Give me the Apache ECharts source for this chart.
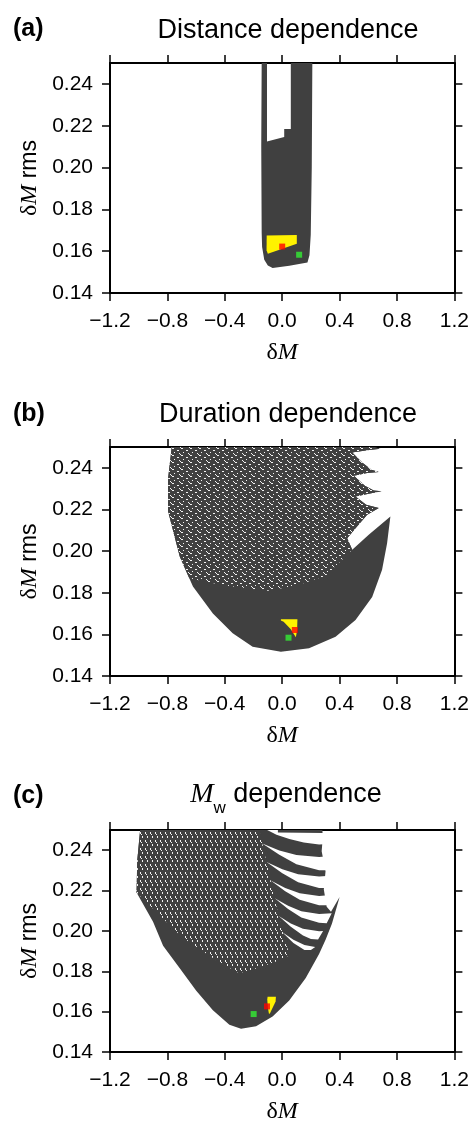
<!DOCTYPE html>
<html>
<head>
<meta charset="utf-8">
<script src="https://cdn.jsdelivr.net/npm/echarts@6/dist/echarts.min.js"></script>
<style>
html, body { margin: 0; padding: 0; background: #fff; }
#chart { width: 472px; height: 1125px; }
</style>
</head>
<body>
<div id="chart"></div>
<script>
var xTicks = [-1.2, -0.8, -0.4, 0.0, 0.4, 0.8, 1.2];
var yTicks = [0.14, 0.16, 0.18, 0.20, 0.22, 0.24];
var yMax = 0.25;

// (a) distance dependence: outline of the point cloud
var distCloud = [[-0.143, 0.25], [-0.106, 0.25], [-0.106, 0.2125], [0.014, 0.2146], [0.014, 0.2184], [0.060, 0.2184],
    [0.060, 0.25], [0.21, 0.25], [0.206, 0.20], [0.199, 0.168], [0.19, 0.158], [0.176, 0.1546], [0.05, 0.153],
    [-0.067, 0.152], [-0.1, 0.1532], [-0.125, 0.1559], [-0.14, 0.162], [-0.143, 0.1687], [-0.146, 0.21]];
var distBest = [[-0.108, 0.1675], [0.102, 0.1677], [0.102, 0.1635], [-0.10, 0.1588], [-0.109, 0.1605]];

// (b) duration dependence: whole cloud, then its speckled upper part
var durCloud = [[-0.77, 0.25], [0.638, 0.25], [0.685, 0.2491], [0.592, 0.2484], [0.488, 0.2474], [0.557, 0.2426],
    [0.622, 0.2391], [0.673, 0.238], [0.592, 0.2375], [0.499, 0.2362], [0.576, 0.2314], [0.638, 0.2291],
    [0.692, 0.2287], [0.603, 0.2275], [0.511, 0.2262], [0.585, 0.2222], [0.673, 0.2207], [0.592, 0.2174],
    [0.511, 0.211], [0.453, 0.2062], [0.488, 0.2006], [0.603, 0.2078], [0.754, 0.2166], [0.742, 0.21],
    [0.731, 0.2038], [0.696, 0.191], [0.627, 0.178], [0.511, 0.1669], [0.372, 0.1589], [0.187, 0.1533],
    [-0.009, 0.1517], [-0.206, 0.1541], [-0.345, 0.1605], [-0.483, 0.17], [-0.622, 0.183], [-0.714, 0.1974],
    [-0.795, 0.219], [-0.795, 0.235]];
var durUpper = [[-0.795, 0.235], [-0.77, 0.25], [0.638, 0.25], [0.685, 0.2491], [0.592, 0.2484], [0.488, 0.2474],
    [0.557, 0.2426], [0.622, 0.2391], [0.673, 0.238], [0.592, 0.2375], [0.499, 0.2362], [0.576, 0.2314],
    [0.638, 0.2291], [0.692, 0.2287], [0.603, 0.2275], [0.511, 0.2262], [0.585, 0.2222], [0.673, 0.2207],
    [0.592, 0.2174], [0.511, 0.211], [0.453, 0.2062], [0.488, 0.2006], [0.42, 0.196], [0.3, 0.188],
    [0.1, 0.1835], [-0.1, 0.181], [-0.4, 0.1835], [-0.648, 0.187], [-0.714, 0.1974], [-0.795, 0.219]];
var durBest = [[-0.009, 0.1673], [0.106, 0.1673], [0.104, 0.162], [0.095, 0.1586], [0.06, 0.1625], [0.01, 0.166], [-0.009, 0.1667]];

// (c) Mw dependence
var mwCloud = [[-0.99, 0.25], [0.28, 0.25], [0.283, 0.2465], [0.275, 0.2395], [0.302, 0.2295], [0.29, 0.2205],
    [0.31, 0.212], [0.34, 0.2095], [0.4, 0.2168], [0.347, 0.2037], [0.303, 0.1958], [0.257, 0.1885],
    [0.164, 0.1767], [0.049, 0.1655], [-0.067, 0.1576], [-0.182, 0.1528], [-0.287, 0.1515], [-0.368, 0.1535],
    [-0.483, 0.1607], [-0.599, 0.1703], [-0.714, 0.1815], [-0.83, 0.1926], [-0.9, 0.2046], [-1.015, 0.219],
    [-1.01, 0.235]];
var mwSparse = [[-0.99, 0.25], [-0.16, 0.25], [-0.09, 0.228], [-0.02, 0.206], [0.05, 0.188], [0.0, 0.186],
    [-0.15, 0.182], [-0.3, 0.179], [-0.45, 0.185], [-0.7, 0.197], [-1.015, 0.219], [-1.01, 0.235]];
// white gaps between the curved bands at the upper right
var mwGaps = [
    [[-0.11, 0.2502], [-0.03, 0.2502], [-0.03, 0.2487], [0.28, 0.2485], [0.36, 0.2485], [0.36, 0.2432],
        [0.257, 0.2428], [0.15, 0.2438], [0.05, 0.2455], [-0.04, 0.2476]],
    [[-0.139, 0.2433], [-0.020, 0.2399], [0.099, 0.2376], [0.257, 0.2366], [0.36, 0.2372], [0.36, 0.2300],
        [0.257, 0.2301], [0.099, 0.2330], [-0.020, 0.2377]],
    [[-0.109, 0.2341], [0.001, 0.2306], [0.111, 0.2281], [0.257, 0.2269], [0.36, 0.2275], [0.36, 0.2213],
        [0.257, 0.2213], [0.111, 0.2241], [0.001, 0.2286]],
    [[-0.08, 0.225], [0.021, 0.2213], [0.122, 0.2186], [0.257, 0.2173], [0.36, 0.2179], [0.36, 0.2127],
        [0.257, 0.2127], [0.122, 0.2154], [0.021, 0.2197]],
    [[-0.052, 0.2162], [0.041, 0.2125], [0.133, 0.2097], [0.257, 0.2084], [0.345, 0.2088], [0.31, 0.2038],
        [0.257, 0.204], [0.133, 0.2067], [0.041, 0.2109]],
    [[-0.024, 0.2074], [0.060, 0.2037], [0.145, 0.2011], [0.257, 0.1998], [0.285, 0.2], [0.25, 0.1958],
        [0.2, 0.196], [0.145, 0.1977], [0.060, 0.2021]],
    [[0.001, 0.1993], [0.078, 0.1956], [0.155, 0.193], [0.23, 0.192], [0.2, 0.1905], [0.155, 0.1905], [0.078, 0.194]]
];
var mwBest = [[-0.102, 0.1674], [-0.044, 0.1674], [-0.046, 0.165], [-0.085, 0.1592], [-0.092, 0.1588], [-0.1, 0.162], [-0.104, 0.166]];

// red = reference model, green = minimum rms
var redPoints = [[0.0, 0.1622], [0.088, 0.1621], [-0.106, 0.1626]];
var greenPoints = [[0.118, 0.1583], [0.044, 0.1584], [-0.199, 0.1588]];

var FONT = 'Liberation Sans, Arial, sans-serif';
var SERIF = 'Liberation Serif, Times New Roman, serif';
var DARK = '#404040';
var tickFmt = function (v) { return v.toFixed(1).replace('-', '\u2212'); };
var gridTops = [63, 447, 830];
var gridHeights = [230, 229, 230];

// small textures standing in for the scattered dots
function makeTexture(w, h, holes) {
    var c = document.createElement('canvas');
    c.width = w; c.height = h;
    var ctx = c.getContext('2d');
    ctx.fillStyle = DARK;
    ctx.fillRect(0, 0, w, h);
    ctx.fillStyle = '#f2f2f2';
    holes.forEach(function (p) { ctx.fillRect(p[0], p[1], 1, 1); });
    return {image: c, repeat: 'repeat'};
}
var dotTexture = makeTexture(9, 7, [[1, 0], [2, 0], [6, 2], [7, 2], [3, 4], [0, 6], [8, 5]]);
var streakTexture = makeTexture(5, 8, [[0, 0], [0, 1], [1, 2], [2, 4], [2, 5]]);

var chart = echarts.init(document.getElementById('chart'));

var frameLine = {onZero: false, lineStyle: {color: '#000', width: 2}};
var frameTick = {length: 8, lineStyle: {color: '#000', width: 1.5}};

var grids = [], xAxes = [], yAxes = [], series = [];
gridTops.forEach(function (top, i) {
    grids.push({left: 110, width: 346, top: top, height: gridHeights[i]});
    xAxes.push({
        gridIndex: i, type: 'value', position: 'bottom',
        min: xTicks[0], max: xTicks[xTicks.length - 1], interval: 0.4,
        name: '{d|δ}{m|M}', nameLocation: 'middle', nameGap: 48,
        nameTextStyle: {
            color: '#000', fontSize: 24, fontFamily: SERIF,
            rich: {d: {fontSize: 24, fontFamily: SERIF}, m: {fontSize: 24, fontFamily: SERIF, fontStyle: 'italic'}}
        },
        axisLine: frameLine, axisTick: frameTick,
        axisLabel: {color: '#000', fontSize: 21, fontFamily: FONT, margin: 18, formatter: tickFmt},
        splitLine: {show: false}
    });
    xAxes.push({
        gridIndex: i, type: 'value', position: 'top',
        min: xTicks[0], max: xTicks[xTicks.length - 1], interval: 0.4,
        axisLine: frameLine, axisTick: frameTick, axisLabel: {show: false}, splitLine: {show: false}
    });
    yAxes.push({
        gridIndex: i, type: 'value', position: 'left',
        min: yTicks[0], max: yMax, interval: 0.02,
        name: '{d|δ}{m|M}{r| rms}', nameLocation: 'middle', nameGap: 64, nameRotate: 90,
        nameTextStyle: {
            color: '#000', fontSize: 24,
            rich: {
                d: {fontSize: 24, fontFamily: SERIF},
                m: {fontSize: 24, fontFamily: SERIF, fontStyle: 'italic'},
                r: {fontSize: 23, fontFamily: FONT}
            }
        },
        axisLine: frameLine,
        axisTick: {length: 8, lineStyle: {color: '#000', width: 1.5}, customValues: yTicks},
        axisLabel: {color: '#000', fontSize: 21, fontFamily: FONT, margin: 17, customValues: yTicks,
            formatter: function (v) { return v.toFixed(2); }},
        splitLine: {show: false}
    });
    yAxes.push({
        gridIndex: i, type: 'value', position: 'right',
        min: yTicks[0], max: yMax, interval: 0.02,
        axisLine: frameLine,
        axisTick: {length: 8, lineStyle: {color: '#000', width: 1.5}, customValues: yTicks},
        axisLabel: {show: false}, splitLine: {show: false}
    });
});

function polygon(points, fill, gi, z) {
    return {
        type: 'custom', xAxisIndex: gi * 2, yAxisIndex: gi * 2, z: z, clip: true, silent: true,
        data: points,
        renderItem: function (params, api) {
            if (params.dataIndex !== 0) return null;
            return {
                type: 'polygon',
                shape: {points: points.map(function (p) { return api.coord(p); })},
                style: {fill: fill}
            };
        }
    };
}

function squares(points, color) {
    return points.map(function (p, gi) {
        return {
            type: 'scatter', xAxisIndex: gi * 2, yAxisIndex: gi * 2, z: 6, silent: true,
            symbol: 'rect', symbolSize: 6, itemStyle: {color: color}, data: [p]
        };
    });
}

series.push(polygon(distCloud, DARK, 0, 2));
series.push(polygon(distBest, '#fff200', 0, 4));

series.push(polygon(durCloud, DARK, 1, 1));
series.push(polygon(durUpper, dotTexture, 1, 2));
series.push(polygon(durBest, '#fff200', 1, 4));

series.push(polygon(mwCloud, DARK, 2, 1));
series.push(polygon(mwSparse, streakTexture, 2, 2));
mwGaps.forEach(function (gap) {
    series.push(polygon(gap, '#ffffff', 2, 3));
});
series.push(polygon(mwBest, '#fff200', 2, 4));

series = series.concat(squares(redPoints, '#ff0000'), squares(greenPoints, '#33ee33'));

var labelStyle = {color: '#000', fontSize: 25, fontWeight: 'bold', fontFamily: FONT};
var titleStyle = {color: '#000', fontSize: 27, fontWeight: 'normal', fontFamily: FONT};

chart.setOption({
    animation: false,
    backgroundColor: '#fff',
    title: [
        {text: '(a)', left: 8, top: 12, textStyle: labelStyle},
        {text: 'Distance dependence', left: 283, top: 12, textAlign: 'center', textStyle: titleStyle},
        {text: '(b)', left: 8, top: 397, textStyle: labelStyle},
        {text: 'Duration dependence', left: 283, top: 396, textAlign: 'center', textStyle: titleStyle},
        {text: '(c)', left: 8, top: 779, textStyle: labelStyle},
        {
            text: '{m|M}{w|w}{t| dependence}', left: 281, top: 776, textAlign: 'center',
            textStyle: {
                color: '#000', fontSize: 27, fontWeight: 'normal', fontFamily: FONT,
                rich: {
                    m: {fontSize: 28, fontFamily: SERIF, fontStyle: 'italic', fontWeight: 'normal', color: '#000'},
                    w: {fontSize: 17, fontFamily: FONT, fontWeight: 'normal', color: '#000', verticalAlign: 'bottom', padding: [0, 0, -8, 0]},
                    t: {fontSize: 27, fontFamily: FONT, fontWeight: 'normal', color: '#000'}
                }
            }
        }
    ],
    grid: grids,
    xAxis: xAxes,
    yAxis: yAxes,
    series: series
});
</script>
</body>
</html>
